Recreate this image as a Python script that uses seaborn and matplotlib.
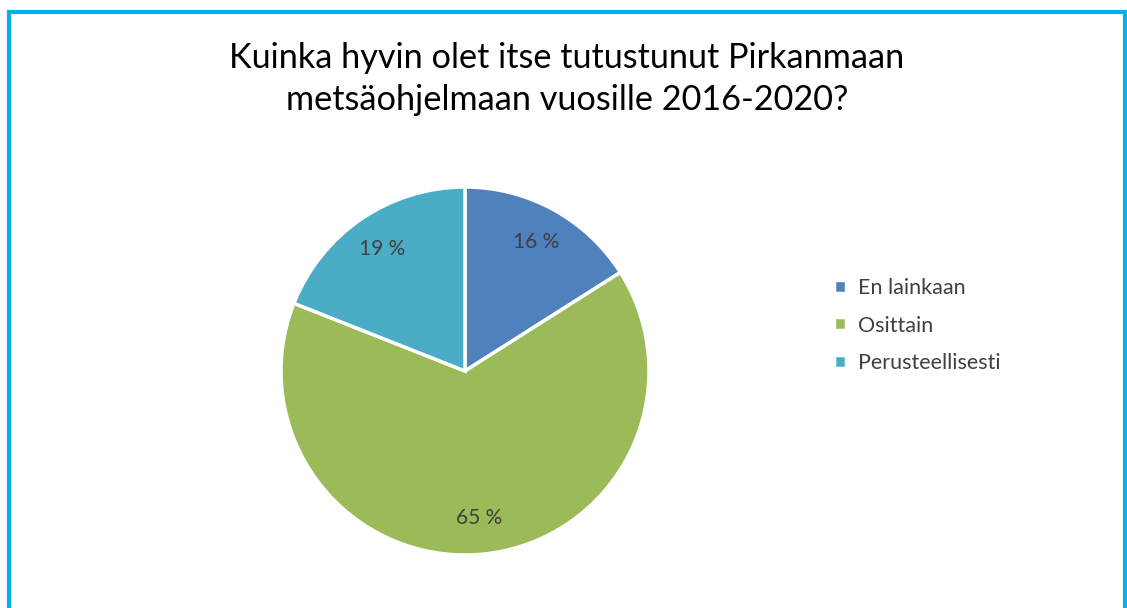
import matplotlib.pyplot as plt
import seaborn as sns
from matplotlib.patches import Rectangle

categories = ['En lainkaan', 'Osittain', 'Perusteellisesti']
shares = [16, 65, 19]
colors = ['#4F81BD', '#9BBB59', '#4BACC6']
title = "Kuinka hyvin olet itse tutustunut Pirkanmaan\nmetsäohjelmaan vuosille 2016-2020?"

sns.set_theme(style='white')
plt.rcParams['font.family'] = ['Lato', 'DejaVu Sans']

W, H = 1127, 608
fig = plt.figure(figsize=(W / 100, H / 100), dpi=100)

# pie centred at (465, 371) px, radius 184 px
cx, cy, r = 465, 371, 184
ax = fig.add_axes([(cx - r) / W, (H - cy - r) / H, 2 * r / W, 2 * r / H])
wedges, texts, autotexts = ax.pie(
    shares, colors=colors, startangle=90, counterclock=False,
    autopct=lambda p: f'{p:.0f} %', pctdistance=0.8,
    wedgeprops=dict(edgecolor='white', linewidth=2.5),
    textprops=dict(color='#404040', fontsize=15))
ax.set_xlim(-1, 1)
ax.set_ylim(-1, 1)
ax.set_aspect('auto')
ax.axis('off')

fig.text(567 / W, 1 - 79 / H, title, ha='center', va='center',
         fontsize=24.7, color='black', linespacing=1.35)

leg = fig.legend(wedges, categories, loc='upper left',
                 bbox_to_anchor=(815 / W, 1 - 259 / H), frameon=False,
                 fontsize=15.5, labelcolor='#404040', handlelength=0.55,
                 handleheight=0.55, handletextpad=0.55, labelspacing=0.8)

fig.patches.append(Rectangle((8.5 / W, -0.1), (1125 - 8.5) / W, 1.1 - 11.5 / H,
                             transform=fig.transFigure, fill=False,
                             edgecolor='#00B0F0', linewidth=3))

fig.savefig('out.png', dpi=100)
